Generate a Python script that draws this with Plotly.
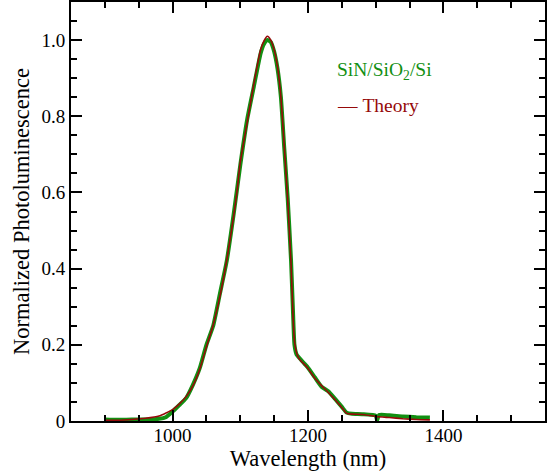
import plotly.graph_objects as go

# Experimental PL (SiN/SiO2/Si)
wl_exp = [900, 920, 940, 960, 980, 990, 1000, 1010, 1020, 1030, 1040, 1050, 1060, 1070,
          1080, 1090, 1100, 1110, 1120, 1130, 1135, 1140, 1145, 1150, 1155, 1160,
          1165, 1170, 1175, 1178, 1180, 1183, 1186, 1190, 1195, 1200, 1210, 1220,
          1230, 1240, 1250, 1257, 1265, 1280, 1300, 1302, 1305, 1320, 1340, 1360, 1380]
pl_exp = [0.004, 0.003, 0.004, 0.004, 0.006, 0.010, 0.025, 0.042, 0.060, 0.095, 0.138, 0.200,
          0.250, 0.335, 0.420, 0.540, 0.672, 0.790, 0.878, 0.965, 0.990, 1.000, 0.995,
          0.970, 0.925, 0.850, 0.715, 0.585, 0.420, 0.280, 0.200, 0.175, 0.168, 0.160,
          0.150, 0.140, 0.115, 0.090, 0.078, 0.058, 0.037, 0.022, 0.019, 0.018, 0.014,
          0.002, 0.016, 0.015, 0.012, 0.010, 0.009]

# Theory
wl_th = [900, 920, 940, 960, 980, 1000, 1010, 1020, 1030, 1040, 1050, 1060, 1070, 1080,
         1090, 1095, 1100, 1110, 1120, 1130, 1135, 1140, 1145, 1150, 1155, 1160, 1165,
         1170, 1175, 1178, 1180, 1183, 1186, 1190, 1195, 1200, 1210, 1220, 1230, 1240,
         1250, 1257, 1265, 1280, 1300, 1320, 1340, 1360, 1380]
pl_th = [0.002, 0.002, 0.004, 0.007, 0.013, 0.030, 0.045, 0.064, 0.092, 0.135, 0.195,
         0.252, 0.328, 0.422, 0.535, 0.600, 0.680, 0.782, 0.885, 0.975, 0.998, 1.010,
         1.000, 0.975, 0.930, 0.850, 0.720, 0.580, 0.410, 0.270, 0.210, 0.180, 0.166,
         0.157, 0.148, 0.138, 0.112, 0.093, 0.075, 0.056, 0.035, 0.020, 0.018, 0.017,
         0.012, 0.009, 0.006, 0.004, 0.003]

x_ticks = [1000, 1200, 1400]
y_ticks = [0, 0.2, 0.4, 0.6, 0.8, 1.0]
y_ticktext = ["0", "0.2", "0.4", "0.6", "0.8", "1.0"]

GREEN = "#128f12"
RED = "#960a0a"
FONT = "Liberation Serif"

fig = go.Figure()
fig.add_trace(go.Scatter(x=wl_exp, y=pl_exp, mode="lines",
                         line=dict(color=GREEN, width=4, shape="spline", smoothing=0.5),
                         showlegend=False, hoverinfo="skip"))
fig.add_trace(go.Scatter(x=wl_th, y=pl_th, mode="lines",
                         line=dict(color=RED, width=1.6, shape="spline", smoothing=0.5),
                         showlegend=False, hoverinfo="skip"))

axis_common = dict(showline=True, linecolor="black", linewidth=2, mirror="ticks",
                   ticks="inside", tickcolor="black", tickwidth=2, ticklen=11,
                   showgrid=False, zeroline=False,
                   tickfont=dict(family=FONT, size=19, color="black"))

fig.update_xaxes(range=[850, 1550], tickvals=x_ticks, ticklabelstandoff=-4,
                 minor=dict(dtick=50, tick0=850, ticks="inside", ticklen=6,
                            tickwidth=2, tickcolor="black", showgrid=False),
                 title=dict(text="Wavelength (nm)", standoff=0,
                            font=dict(family=FONT, size=22.5, color="black")),
                 **axis_common)
fig.update_yaxes(range=[0, 1.1], tickvals=y_ticks, ticktext=y_ticktext,
                 minor=dict(dtick=0.05, tick0=0, ticks="inside", ticklen=6,
                            tickwidth=2, tickcolor="black", showgrid=False),
                 title=dict(text="Normalized Photoluminescence", standoff=6,
                            font=dict(family=FONT, size=22.5, color="black")),
                 **axis_common)

fig.add_annotation(text="SiN/SiO<sub>2</sub>/Si", xref="paper", yref="paper",
                   x=(335 - 71) / 474, y=(421 - 71) / 419, xanchor="left", yanchor="middle",
                   showarrow=False, font=dict(family=FONT, size=19.5, color=GREEN))
fig.add_annotation(text="<span style='color:%s'>—</span>&nbsp;Theory" % RED, xref="paper",
                   yref="paper", x=(335 - 71) / 474, y=(421 - 105) / 419,
                   xanchor="left", yanchor="middle", showarrow=False,
                   font=dict(family=FONT, size=19.5, color=RED))

fig.update_layout(width=553, height=476, margin=dict(l=71, r=8, t=2, b=55, autoexpand=False),
                  plot_bgcolor="white", paper_bgcolor="white",
                  font=dict(family=FONT, color="black"))

fig.write_html("out.html", config={"displayModeBar": False, "staticPlot": True},
               post_script="document.body.style.margin='0';document.body.style.padding='0';")
